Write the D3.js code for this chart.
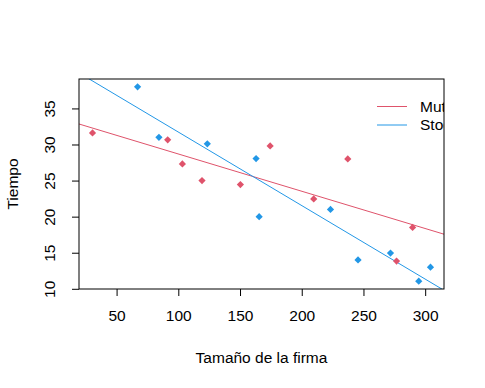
<!DOCTYPE html>
<html>
<head>
<meta charset="utf-8">
<script src="https://cdn.jsdelivr.net/npm/d3@7"></script>
<style>
  body { margin: 0; background: #fff; }
  text { font-family: "Liberation Sans", Arial, sans-serif; fill: #000; }
</style>
</head>
<body>
<div id="chart"></div>
<script>
// Tamaño de la firma vs Tiempo, two groups
const mutualX = [30.5, 91.4, 103.3, 119.2, 150.3, 174.4, 209.7, 237.3, 276.8, 289.8]
const mutualY = [31.6, 30.65, 27.3, 25.0, 24.45, 29.8, 22.45, 28.0, 13.85, 18.5]
const stockX = [67, 84.3, 123.5, 163, 165.5, 223.3, 245.6, 271.9, 294.8, 304.3]
const stockY = [38.0, 31.0, 30.1, 28.05, 20.0, 21.0, 14.0, 14.95, 11.05, 13.0]
const xTicks = [50, 100, 150, 200, 250, 300]
const yTicks = [10, 15, 20, 25, 30, 35]
const groupNames = ['Mutual', 'Stock']
const groupColors = ['#DF536B', '#2297E6']

const width = 485,
  height = 388
const box = {left: 79, right: 444, top: 79, bottom: 289}
const fs = '15.5px'

// R style ranges: data extent padded by 4%
const allX = mutualX.concat(stockX),
  allY = mutualY.concat(stockY)
const pad = (ext) => { const d = (ext[1]-ext[0])*0.04; return [ext[0]-d, ext[1]+d] }
const x = d3.scaleLinear().domain(pad(d3.extent(allX))).range([box.left, box.right])
const y = d3.scaleLinear().domain(pad(d3.extent(allY))).range([box.bottom, box.top])

const svg = d3.select('#chart').append('svg')
  .attr('width', width)
  .attr('height', height)

svg.append('clipPath').attr('id', 'plotclip')
  .append('rect')
  .attr('x', box.left).attr('y', box.top)
  .attr('width', box.right-box.left).attr('height', box.bottom-box.top)

// least squares fit, like abline(lm(y ~ x))
function fit(xs, ys) {
  const mx = d3.mean(xs), my = d3.mean(ys)
  let sxy = 0, sxx = 0
  xs.forEach((v, i) => { sxy += (v-mx)*(ys[i]-my); sxx += (v-mx)*(v-mx) })
  const b = sxy/sxx
  return {a: my-b*mx, b: b}
}

const groups = [
  {xs: mutualX, ys: mutualY, color: groupColors[0]},
  {xs: stockX, ys: stockY, color: groupColors[1]}
]

const plot = svg.append('g').attr('clip-path', 'url(#plotclip)')

groups.forEach(gr => {
  const f = fit(gr.xs, gr.ys)
  const [x0, x1] = x.domain()
  plot.append('line')
    .attr('x1', x(x0)).attr('y1', y(f.a+f.b*x0))
    .attr('x2', x(x1)).attr('y2', y(f.a+f.b*x1))
    .attr('stroke', gr.color)
    .attr('stroke-width', 1)
})

const diamond = d3.symbol().type(d3.symbolSquare).size(26)
groups.forEach(gr => {
  plot.selectAll(null)
    .data(gr.xs.map((v, i) => [v, gr.ys[i]]))
    .enter().append('path')
    .attr('d', diamond)
    .attr('transform', d => `translate(${x(d[0])},${y(d[1])}) rotate(45)`)
    .attr('fill', gr.color)
})

// legend (clipped by the plot region, as in the original)
const legend = plot.append('g')
groupNames.forEach((name, i) => {
  const ly = 106.5 + i*18.5
  legend.append('line')
    .attr('x1', 377).attr('x2', 407)
    .attr('y1', ly).attr('y2', ly)
    .attr('stroke', groupColors[i])
  legend.append('text')
    .attr('x', 420).attr('y', ly)
    .attr('dy', '0.35em')
    .style('font-size', fs)
    .text(name)
})

// box
svg.append('rect')
  .attr('x', box.left).attr('y', box.top)
  .attr('width', box.right-box.left).attr('height', box.bottom-box.top)
  .attr('fill', 'none')
  .attr('stroke', '#000')

// axes
const xAxis = svg.append('g')
  .attr('transform', `translate(0,${box.bottom})`)
  .call(d3.axisBottom(x).tickValues(xTicks).tickSize(7).tickPadding(14))
const yAxis = svg.append('g')
  .attr('transform', `translate(${box.left},0)`)
  .call(d3.axisLeft(y).tickValues(yTicks).tickSize(7).tickPadding(0))

;[xAxis, yAxis].forEach(a => {
  a.select('.domain').remove()
  a.selectAll('line').attr('stroke', '#000')
  a.selectAll('text').style('font-size', fs).style('font-family', '"Liberation Sans", Arial, sans-serif')
})
yAxis.selectAll('text')
  .attr('x', -29)
  .attr('y', 0)
  .attr('dy', '0.35em')
  .attr('text-anchor', 'middle')
  .attr('transform', 'rotate(-90, -29, 0)')

svg.append('text')
  .attr('x', (box.left+box.right)/2)
  .attr('y', 358)
  .attr('dy', '0.35em')
  .attr('text-anchor', 'middle')
  .style('font-size', fs)
  .text('Tamaño de la firma')

svg.append('text')
  .attr('transform', `translate(13,${(box.top+box.bottom)/2}) rotate(-90)`)
  .attr('dy', '0.35em')
  .attr('text-anchor', 'middle')
  .style('font-size', fs)
  .text('Tiempo')
</script>
</body>
</html>
